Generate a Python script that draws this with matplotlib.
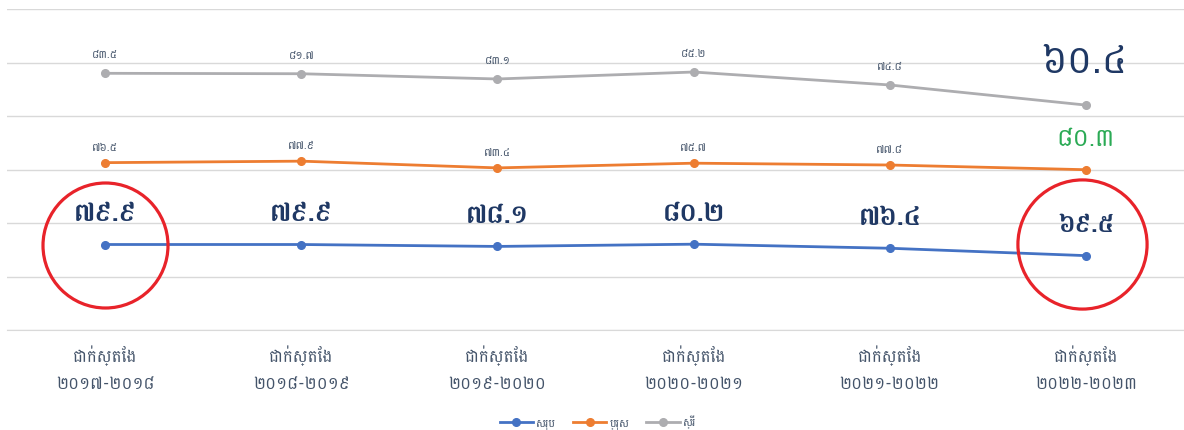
import matplotlib
matplotlib.use("Agg")
import numpy as np
import matplotlib.pyplot as plt
from matplotlib.transforms import ScaledTranslation

plt.rcParams['font.family'] = ['Battambang', 'DejaVu Sans']

years = ["២០១៧-២០១៨", "២០១៨-២០១៩", "២០១៩-២០២០", "២០២០-២០២១", "២០២១-២០២២", "២០២២-២០២៣"]
categories = ["ជាក់ស្តែង\n" + y for y in years]

# values (stacked line chart: total, male, female)
total = [79.9, 79.9, 78.1, 80.2, 76.4, 69.5]
male = [76.5, 77.9, 73.4, 75.7, 77.8, 80.3]
female = [83.5, 81.7, 83.1, 85.2, 74.8, 60.4]

total_lbl = ["៧៩.៩", "៧៩.៩", "៧៨.១", "៨០.២", "៧៦.៤", "៦៩.៥"]
male_lbl = ["៧៦.៥", "៧៧.៩", "៧៣.៤", "៧៥.៧", "៧៧.៨", "៨០.៣"]
female_lbl = ["៨៣.៥", "៨១.៧", "៨៣.១", "៨៥.២", "៧៤.៨", "៦០.៤"]
legend_names = ["សរុប", "ប្រុស", "ស្រី"]

c_total = "#4472C4"
c_male = "#ED7D31"
c_female = "#ADADB0"
navy = "#1F3864"
small_col = "#44546A"

x = np.arange(len(categories))
s1 = np.array(total)
s2 = s1 + np.array(male)
s3 = s2 + np.array(female)

fig = plt.figure(figsize=(11.84, 4.31), dpi=100)
ax = fig.add_axes([0.006, 1 - 331 / 431, 0.994, 321 / 431])

for s, c, name in [(s1, c_total, legend_names[0]), (s2, c_male, legend_names[1]), (s3, c_female, legend_names[2])]:
    ax.plot(x, s, color=c, lw=2.0, marker='o', ms=5.5, label=name, zorder=3)

# small labels for male and female
for i in range(len(x) - 1):
    ax.annotate(female_lbl[i], (x[i], s3[i]), xytext=(0, 10), textcoords='offset points',
                ha='center', va='bottom', fontsize=8, color=small_col)
    ax.annotate(male_lbl[i], (x[i], s2[i]), xytext=(0, 8), textcoords='offset points',
                ha='center', va='bottom', fontsize=8, color=small_col)
    ax.annotate(total_lbl[i], (x[i], s1[i]), xytext=(0, 14), textcoords='offset points',
                ha='center', va='bottom', fontsize=19, fontweight='bold', color=navy)

# last column, highlighted labels
ax.annotate(female_lbl[-1], (x[-1], s3[-1]), xytext=(-1, 18), textcoords='offset points',
            ha='center', va='bottom', fontsize=28, color=navy)
ax.annotate(male_lbl[-1], (x[-1], s2[-1]), xytext=(0, 14), textcoords='offset points',
            ha='center', va='bottom', fontsize=18, color="#2BAA55")
ax.annotate(total_lbl[-1], (x[-1], s1[-1]), xytext=(0, 14), textcoords='offset points',
            ha='center', va='bottom', fontsize=18, fontweight='bold', color=navy)

# red circles around first and last total points
ax.plot(x[0], s1[0], marker='o', ms=90, mfc='none', mec='#E8232A', mew=2.3, zorder=4)
shift = ax.transData + ScaledTranslation(-0.04, 0.12, fig.dpi_scale_trans)
ax.plot(x[-1], s1[-1], marker='o', ms=93, mfc='none', mec='#E8232A', mew=2.3, zorder=4,
        transform=shift)

ax.set_xlim(-0.5, len(x) - 0.5)
ax.set_ylim(0, 300)
ax.set_yticks(np.arange(0, 301, 50))
ax.yaxis.grid(True, color='#D9D9D9', lw=1)
ax.set_axisbelow(True)
ax.tick_params(axis='y', left=False, labelleft=False)
ax.tick_params(axis='x', length=0, pad=10, labelsize=12, labelcolor=small_col)
ax.set_xticks(x)
ax.set_xticklabels(categories, linespacing=1.8)
for sp in ['top', 'right', 'left']:
    ax.spines[sp].set_visible(False)
ax.spines['bottom'].set_color('#D9D9D9')

fig.legend(loc='lower center', bbox_to_anchor=(0.505, -0.02), ncol=3, frameon=False,
           fontsize=8, handlelength=3, columnspacing=1.5, handletextpad=0.3,
           labelcolor=small_col)

fig.savefig("out.png", dpi=100)
